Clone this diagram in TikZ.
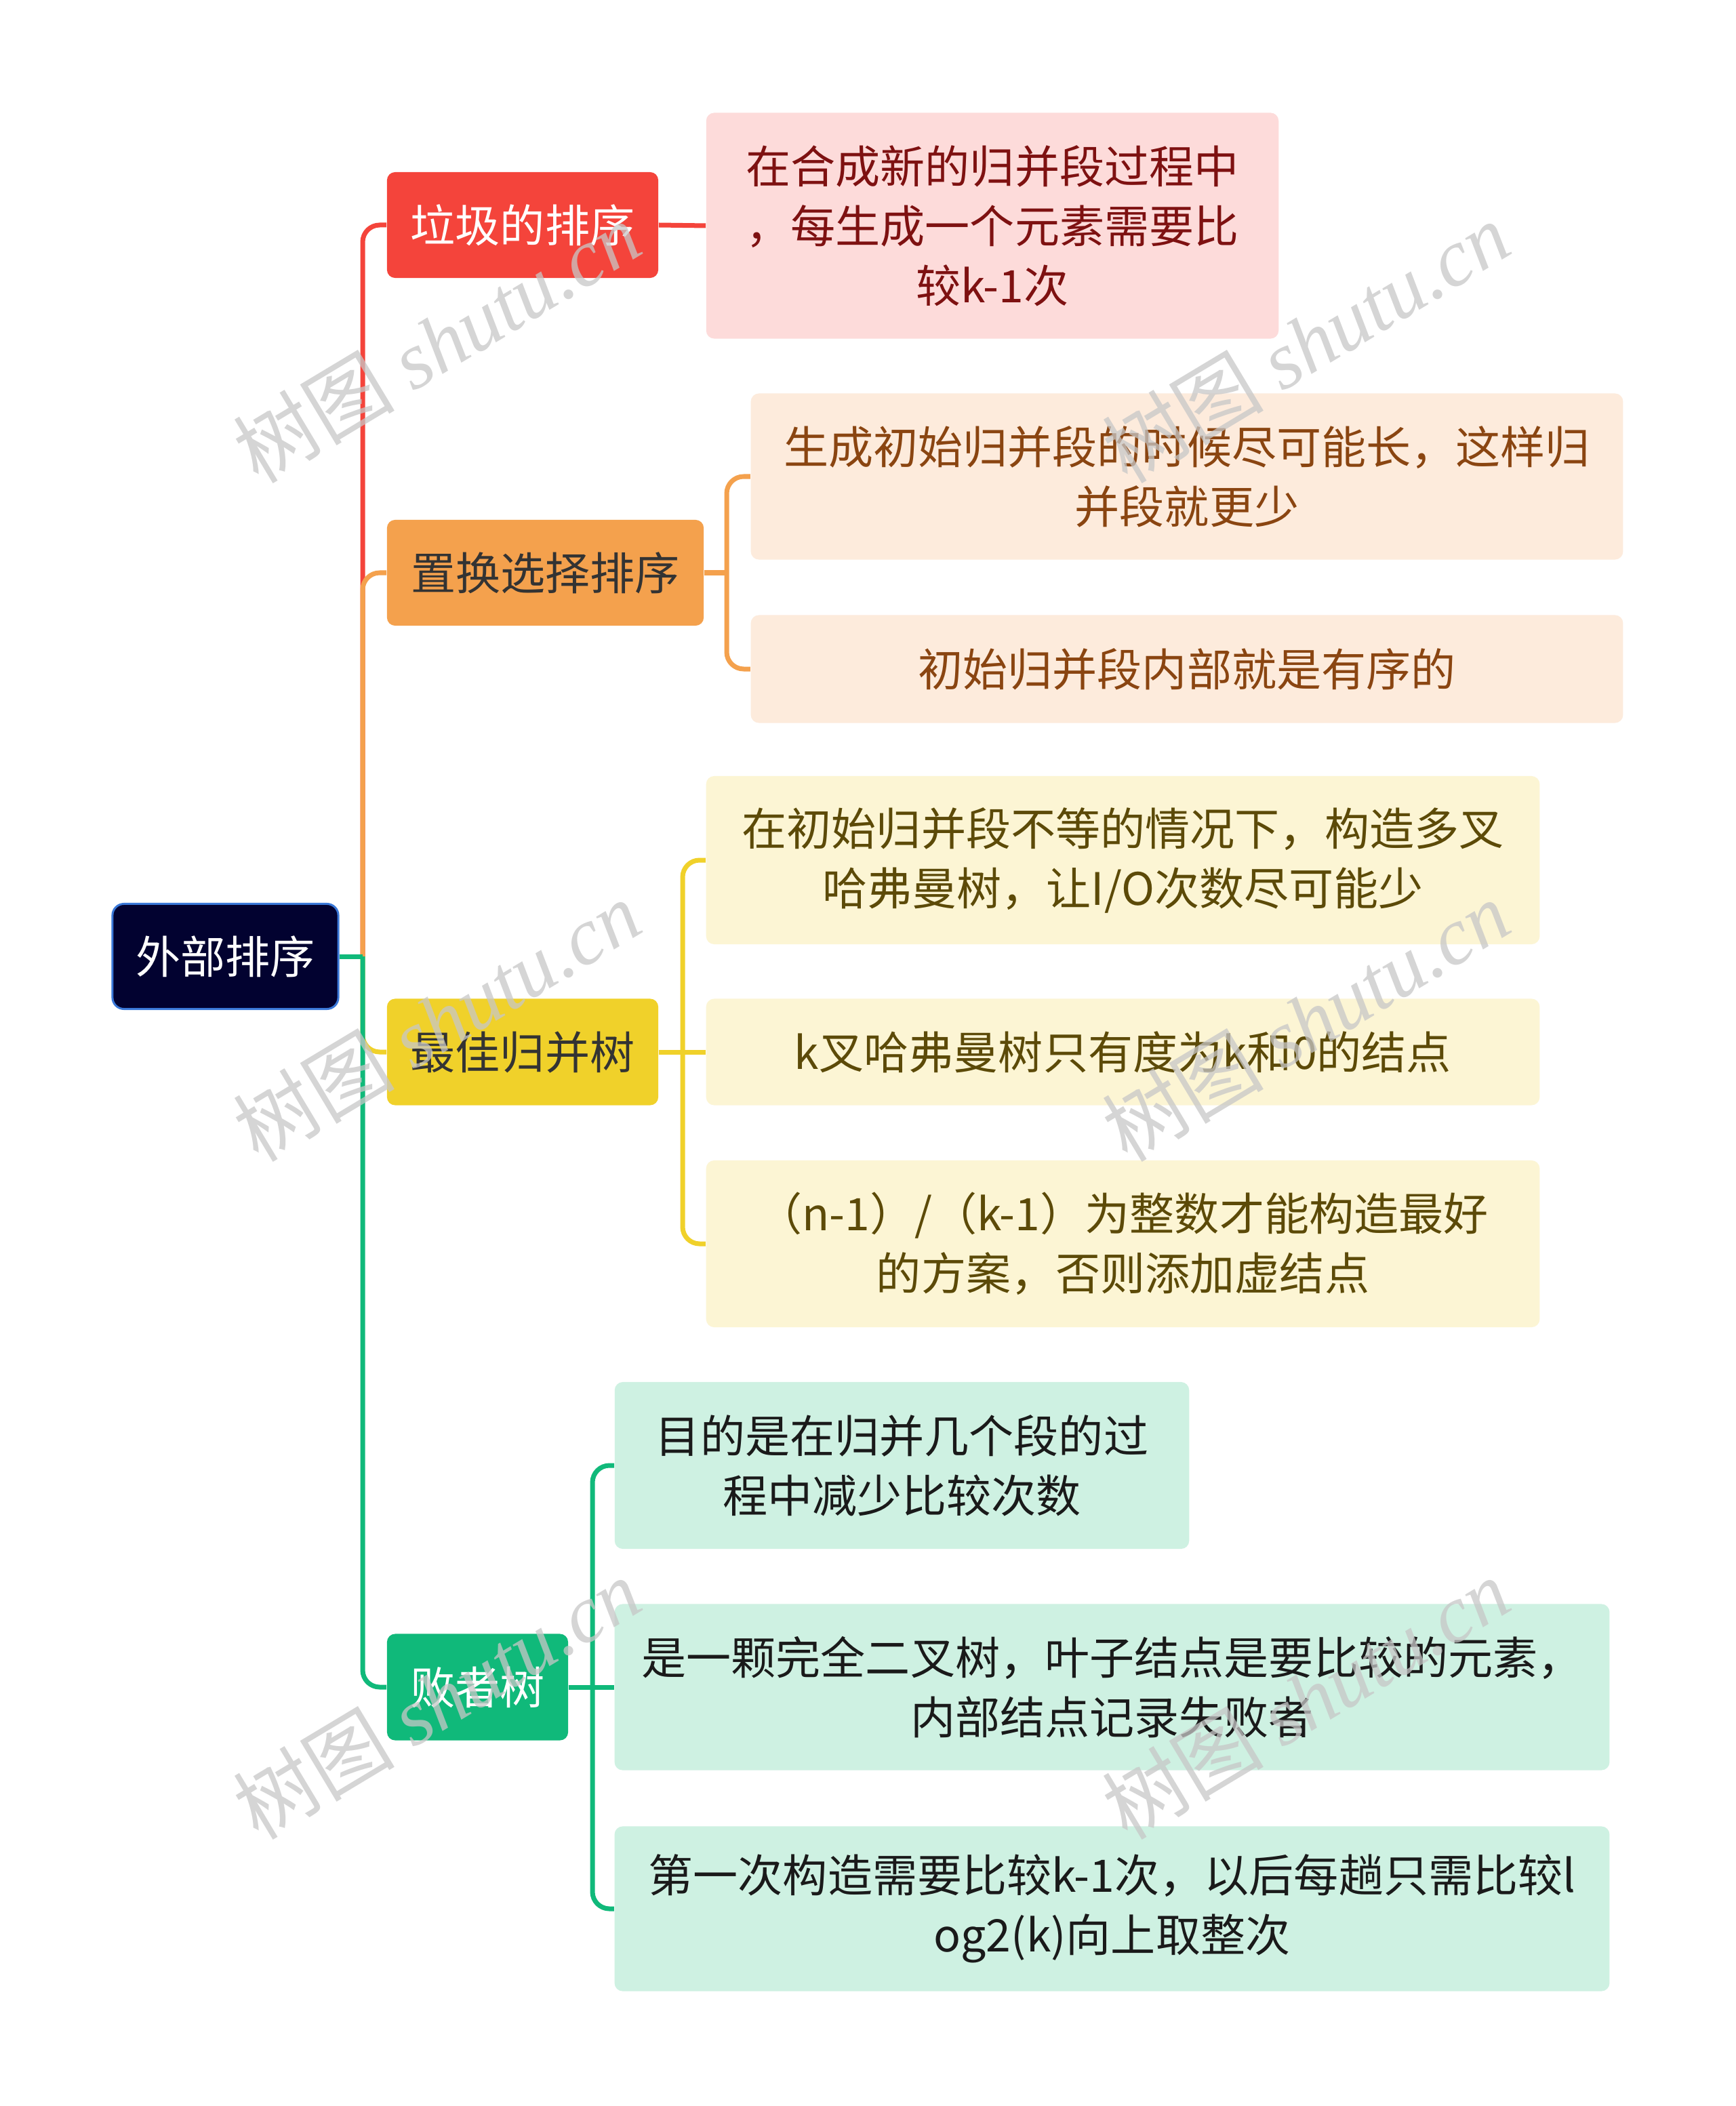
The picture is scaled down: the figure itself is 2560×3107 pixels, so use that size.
\documentclass[tikz,border=0pt]{standalone}
\usepackage{fontspec}
\setmainfont{Noto Sans CJK SC}
\newfontfamily\wmlatin{Liberation Serif}
\newfontfamily\wmcjk{Noto Sans CJK SC}
\usetikzlibrary{calc}
\definecolor{cRoot}{HTML}{020230}
\definecolor{cRootB}{HTML}{3A78D8}
\definecolor{cRed}{HTML}{F4443B}
\definecolor{cRedL}{HTML}{FDDBDA}
\definecolor{cRedT}{HTML}{7E1111}
\definecolor{cOra}{HTML}{F4A14D}
\definecolor{cOraL}{HTML}{FDEBDC}
\definecolor{cOraT}{HTML}{8A4511}
\definecolor{cYel}{HTML}{F0D12A}
\definecolor{cYelL}{HTML}{FCF5D4}
\definecolor{cYelT}{HTML}{5C4A08}
\definecolor{cGrn}{HTML}{10B97A}
\definecolor{cGrnL}{HTML}{CEF1E2}
\definecolor{cGrnT}{HTML}{1A1A1A}
\definecolor{cDark}{HTML}{333333}
\begin{document}
\begin{tikzpicture}[x=0.01cm,y=-0.01cm,
  txt/.style={font={\fontsize{18.8pt}{25pt}\selectfont}, align=center, inner sep=0pt},
  box/.style={txt, rectangle, rounded corners=0.12cm},
  conn/.style={line width=0.07cm, rounded corners=0.25cm},
  wm/.style={rotate=31, text=black!22, font={\fontsize{34pt}{34pt}\selectfont}, inner sep=0pt}]
\useasboundingbox (0,0) rectangle (2560,3107);
\fill[white] (0,0) rectangle (2560,3107);

% root
\node[box, rounded corners=0.17cm, fill=cRoot, draw=cRootB, line width=0.03cm, text=white,
  minimum width=3.33cm, minimum height=1.55cm] (root) at (332.5,1411) {外部排序};

% branches
\node[box, fill=cRed, text=white, minimum width=4.00cm, minimum height=1.56cm] (b1) at (771,332) {垃圾的排序};
\node[box, fill=cOra, text=cDark, minimum width=4.67cm, minimum height=1.56cm] (b2) at (804.5,845) {置换选择排序};
\node[box, fill=cYel, text=cDark, minimum width=4.00cm, minimum height=1.57cm] (b3) at (771,1552) {最佳归并树};
\node[box, fill=cGrn, text=white, minimum width=2.67cm, minimum height=1.57cm] (b4) at (704.5,2489) {败者树};

% leaves
\node[box, fill=cRedL, text=cRedT, minimum width=8.44cm, minimum height=3.33cm] (l1) at (1464,333)
  {在合成新的归并段过程中\\，每生成一个元素需要比\\较k-1次};

\node[box, fill=cOraL, text=cOraT, minimum width=12.86cm, minimum height=2.45cm] (l2a) at (1751,703)
  {生成初始归并段的时候尽可能长，这样归\\并段就更少};
\node[box, fill=cOraL, text=cOraT, minimum width=12.86cm, minimum height=1.59cm] (l2b) at (1751,987)
  {初始归并段内部就是有序的};

\node[box, fill=cYelL, text=cYelT, minimum width=12.29cm, minimum height=2.48cm] (l3a) at (1656.5,1269)
  {在初始归并段不等的情况下，构造多叉\\哈弗曼树，让I/O次数尽可能少};
\node[box, fill=cYelL, text=cYelT, minimum width=12.29cm, minimum height=1.57cm] (l3b) at (1656.5,1552)
  {k叉哈弗曼树只有度为k和0的结点};
\node[box, fill=cYelL, text=cYelT, minimum width=12.29cm, minimum height=2.46cm] (l3c) at (1656.5,1835)
  {（n-1）/（k-1）为整数才能构造最好\\的方案，否则添加虚结点};

\node[box, fill=cGrnL, text=cGrnT, minimum width=8.47cm, minimum height=2.46cm] (l4a) at (1330.5,2162)
  {目的是在归并几个段的过\\程中减少比较次数};
\node[box, fill=cGrnL, text=cGrnT, minimum width=14.67cm, minimum height=2.45cm] (l4b) at (1640.5,2489)
  {是一颗完全二叉树，叶子结点是要比较的元素，\\内部结点记录失败者};
\node[box, fill=cGrnL, text=cGrnT, minimum width=14.67cm, minimum height=2.43cm] (l4c) at (1640.5,2816)
  {第一次构造需要比较k-1次，以后每趟只需比较l\\og2(k)向上取整次};

% hubs
\coordinate (hub) at (535,1411);
\coordinate (h2) at (1072,845);
\coordinate (h3) at (1007,1552);
\coordinate (h4) at (874,2489);

% main connectors
\draw[conn, cRed] (hub) |- (b1.west);
\draw[conn, cOra] (hub) |- (b2.west);
\draw[conn, cYel] (hub) |- (b3.west);
\draw[conn, cGrn] (hub) |- (b4.west);
\draw[conn, cGrn] (root.east) -- (hub);

% branch 1
\draw[conn, cRed] (b1.east) -- (l1.west);
% branch 2
\draw[conn, cOra] (b2.east) -- (h2);
\draw[conn, cOra] (h2) |- (l2a.west);
\draw[conn, cOra] (h2) |- (l2b.west);
% branch 3
\draw[conn, cYel] (h3) |- (l3a.west);
\draw[conn, cYel] (h3) |- (l3c.west);
\draw[conn, cYel] (b3.east) -- (l3b.west);
% branch 4
\draw[conn, cGrn] (h4) |- (l4a.west);
\draw[conn, cGrn] (h4) |- (l4c.west);
\draw[conn, cGrn] (b4.east) -- (l4b.west);

% watermarks
\foreach \wx/\wy/\wn in {644/505/1, 1926/505/2, 644/1506/3, 1926/1506/4, 644/2506/5, 1926/2506/6}{
  \node[wm, opacity=0.75] (wm\wn) at (\wx,\wy) {{\wmcjk\itshape 树图} {\wmlatin\itshape shutu.cn}};
}
\end{tikzpicture}
\end{document}
